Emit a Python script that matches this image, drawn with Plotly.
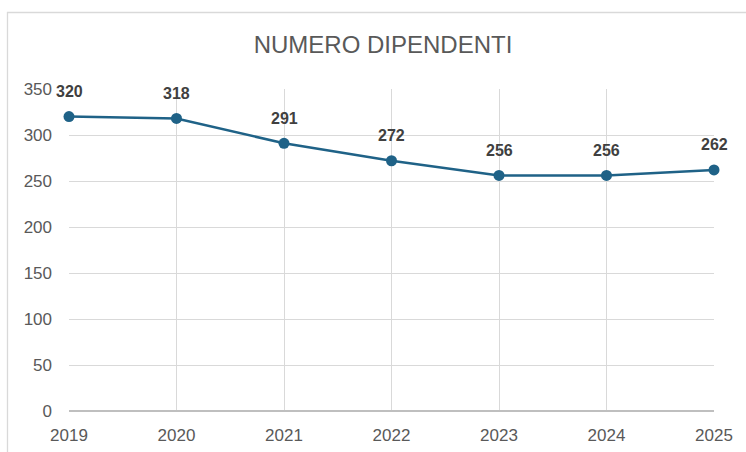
import plotly.graph_objects as go

years = [2019, 2020, 2021, 2022, 2023, 2024, 2025]
dipendenti = [320, 318, 291, 272, 256, 256, 262]
y_ticks = [0, 50, 100, 150, 200, 250, 300, 350]
title_text = "NUMERO DIPENDENTI"

line_color = "#1F6287"
grid_color = "#D9D9D9"
text_gray = "#595959"
font_main = "Liberation Sans, Arial, sans-serif"

fig = go.Figure()
fig.add_trace(go.Scatter(
    x=years, y=dipendenti, mode="lines+markers",
    line=dict(color=line_color, width=2.5),
    marker=dict(color=line_color, size=11),
    cliponaxis=False, hoverinfo="skip", showlegend=False,
))

for x, y in zip(years, dipendenti):
    fig.add_annotation(x=x, y=y, text=f"<b>{y}</b>", showarrow=False,
                       yshift=25, font=dict(family=font_main, size=16, color="#404040"))

W, H = 746, 452
L, R, T, B = 69, 32, 89, 41
pw, ph = W - L - R, H - T - B

def px_x(px):
    return (px - L) / pw

def px_y(py):
    return (H - B - py) / ph

fig.add_shape(type="line", xref="paper", yref="paper",
              x0=px_x(7.5), x1=px_x(7.5), y0=px_y(12), y1=px_y(460),
              line=dict(color=grid_color, width=1.3))
fig.add_shape(type="line", xref="paper", yref="paper",
              x0=px_x(7), x1=px_x(760), y0=px_y(12.5), y1=px_y(12.5),
              line=dict(color=grid_color, width=1.3))

fig.update_layout(
    width=W, height=H,
    margin=dict(l=L, r=R, t=T, b=B, autoexpand=False),
    paper_bgcolor="white", plot_bgcolor="white",
    title=dict(text=title_text, x=383 / W, xanchor="center",
               y=1 - 45 / H, yanchor="middle", yref="container",
               font=dict(family=font_main, size=24, color=text_gray)),
    xaxis=dict(range=[2019, 2025], tickvals=years, ticktext=[str(y) for y in years],
               showgrid=True, gridcolor=grid_color, gridwidth=1.3,
               showline=False, zeroline=False, ticks="", ticklabelstandoff=12,
               automargin=False,
               tickfont=dict(family=font_main, size=17, color=text_gray)),
    yaxis=dict(range=[0, 350], tickvals=y_ticks,
               showgrid=True, gridcolor=grid_color, gridwidth=1.3,
               zeroline=True, zerolinecolor="#BFBFBF", zerolinewidth=1.5,
               showline=False, ticks="", ticklabelstandoff=16,
               automargin=False,
               tickfont=dict(family=font_main, size=17, color=text_gray)),
)

fig.write_html("out.html", config={"displayModeBar": False},
               post_script="document.body.style.margin='0px';")
